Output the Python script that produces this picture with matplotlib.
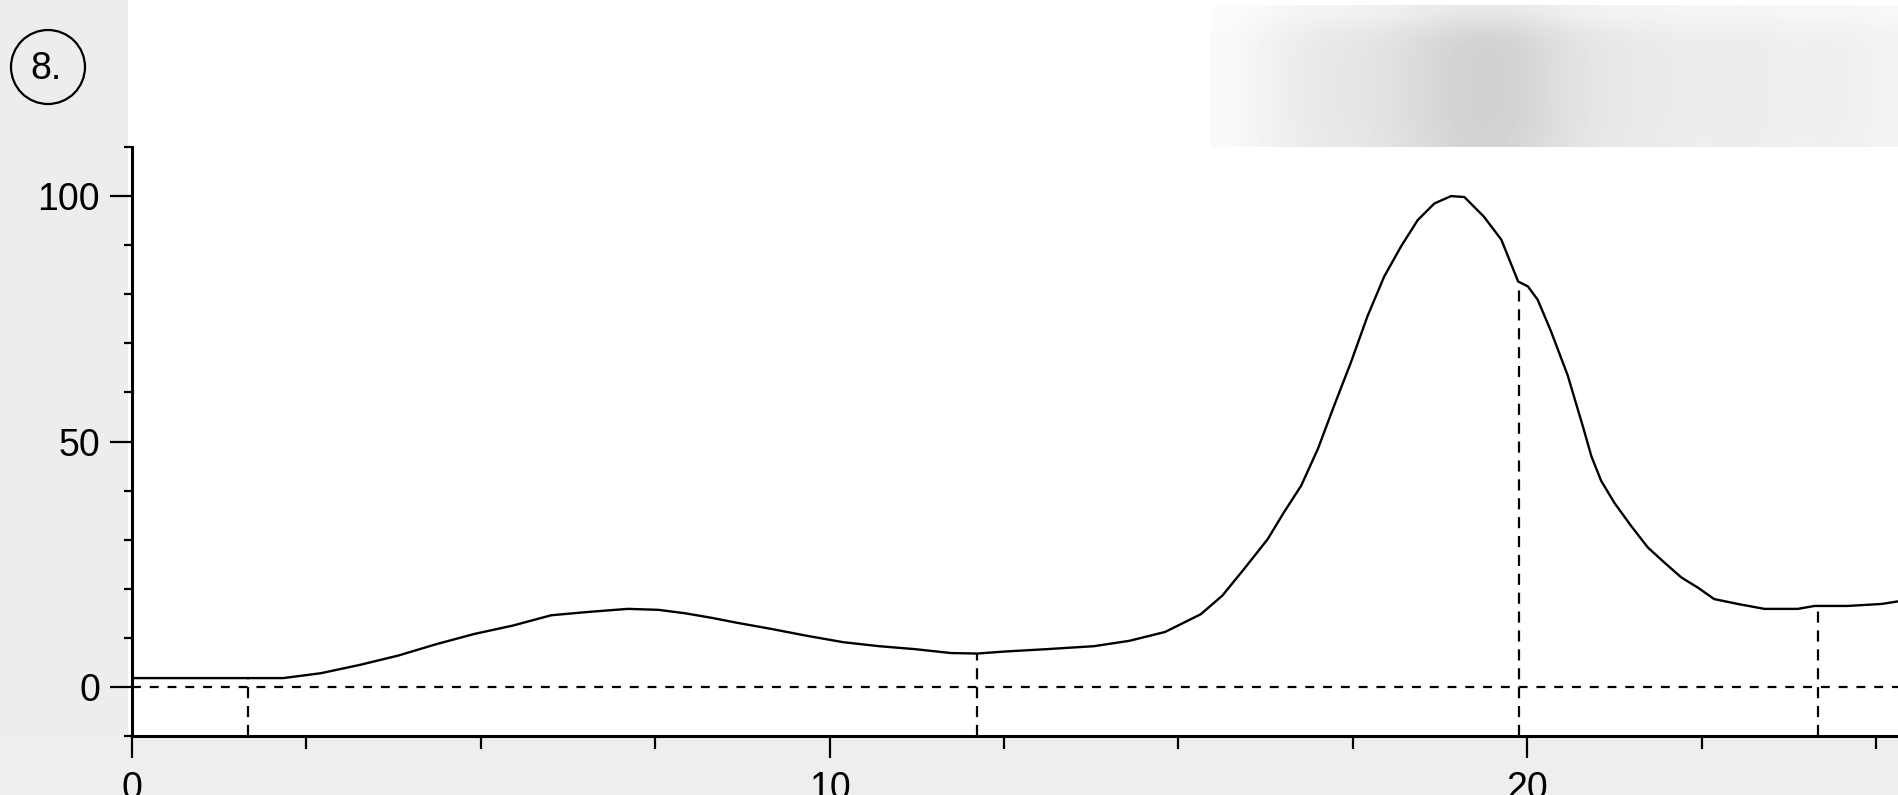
import numpy as np
import matplotlib
matplotlib.use("Agg")
import matplotlib.pyplot as plt
from matplotlib.patches import Circle, Rectangle
from matplotlib.ticker import MultipleLocator

plt.rcParams['font.family'] = ['Liberation Sans', 'DejaVu Sans']

# trace (time, signal %)
time = [0.0, 2.17, 2.71, 3.27, 3.82, 4.36, 4.91, 5.46, 6.01, 6.56, 7.11, 7.55,
        7.93, 8.30, 8.66, 9.17, 9.68, 10.20, 10.71, 11.22, 11.74, 12.12, 12.50,
        13.12, 13.79, 14.30, 14.81, 15.32, 15.63, 15.94, 16.28, 16.51, 16.76,
        17.00, 17.23, 17.47, 17.71, 17.95, 18.19, 18.43, 18.67, 18.91, 19.10,
        19.38, 19.63, 19.87, 20.01, 20.15, 20.34, 20.58, 20.80, 20.92, 21.06,
        21.25, 21.49, 21.73, 21.97, 22.21, 22.45, 22.68, 23.02, 23.40, 23.88,
        24.12, 24.60, 25.08, 25.35]
signal = [1.8, 1.8, 2.8, 4.5, 6.4, 8.7, 10.8, 12.5, 14.6, 15.3, 15.9, 15.7,
          15.0, 14.1, 13.1, 11.8, 10.4, 9.1, 8.3, 7.7, 6.9, 6.8, 7.2,
          7.7, 8.3, 9.4, 11.2, 14.8, 18.6, 24.0, 30.1, 35.5, 41.0,
          48.5, 57.2, 66.0, 75.5, 83.6, 89.7, 95.1, 98.5, 100.0, 99.8,
          95.8, 91.1, 82.6, 81.6, 78.9, 72.5, 63.5, 53.0, 47.0, 42.0,
          37.5, 32.8, 28.4, 25.3, 22.3, 20.2, 17.9, 16.9, 15.9, 15.9,
          16.5, 16.5, 16.9, 17.5]

# peak boundary markers
marks = [1.66, 12.11, 19.88, 24.17]

label = "8."

fig = plt.figure(figsize=(18.99, 7.95), dpi=100, facecolor='white')

# scanned paper tones around the plot
fig.patches.append(Rectangle((0, 0), 128 / 1899, 1, transform=fig.transFigure,
                             facecolor='#ededed', edgecolor='none', zorder=-5))
fig.patches.append(Rectangle((0, 0), 1, 57 / 795, transform=fig.transFigure,
                             facecolor='#eeeeee', edgecolor='none', zorder=-5))

# grey smudge at the top right of the scan
blob = fig.add_axes([1211 / 1899, 648 / 795, 688 / 1899, 142 / 795])
dark_x = np.array([0.02, 0.06, 0.09, 0.10, 0.13, 0.17, 0.19, 0.16, 0.11,
                   0.09, 0.08, 0.07, 0.08, 0.06, 0.07, 0.05])
dark_y = np.array([0.5, 0.9, 1.0, 1.0, 1.0, 1.0, 1.0, 0.95])
img = 1 - np.outer(dark_y, dark_x)
blob.imshow(img, cmap='gray', vmin=0, vmax=1, aspect='auto', interpolation='bicubic')
blob.axis('off')

ax = fig.add_axes([132 / 1899, 59 / 795, 1767 / 1899, 589 / 795])
ax.set_facecolor('white')

ax.plot(time, signal, color='black', lw=1.7, zorder=3)
ax.axhline(0, color='black', lw=1.6, dashes=(4, 4), zorder=2)
for m in marks:
    ax.vlines(m, -10, np.interp(m, time, signal), color='black', lw=1.6,
              linestyles=(0, (5, 3.5)), zorder=2)

ax.set_xlim(0, 25.33)
ax.set_ylim(-10, 110)

for s in ['top', 'right']:
    ax.spines[s].set_visible(False)
for s in ['left', 'bottom']:
    ax.spines[s].set_linewidth(2.2)

ax.xaxis.set_major_locator(MultipleLocator(10))
ax.xaxis.set_minor_locator(MultipleLocator(2.5))
ax.yaxis.set_major_locator(MultipleLocator(50))
ax.yaxis.set_minor_locator(MultipleLocator(10))

ax.tick_params(axis='both', which='major', labelsize=27, width=1.6, direction='out')
ax.tick_params(axis='y', which='major', length=16, pad=7)
ax.tick_params(axis='y', which='minor', length=6, width=1.6)
ax.tick_params(axis='x', which='major', length=16, pad=9)
ax.tick_params(axis='x', which='minor', length=9, width=1.6)

# circled figure number
fig.patches.append(Circle((0.48, 7.28), 0.37, transform=fig.dpi_scale_trans,
                          facecolor='none', edgecolor='black', lw=1.6))
fig.text(0.46 / 18.99, 1 - 0.69 / 7.95, label, fontsize=27,
         ha='center', va='center')

fig.savefig('out.png', dpi=100, facecolor=fig.get_facecolor())
